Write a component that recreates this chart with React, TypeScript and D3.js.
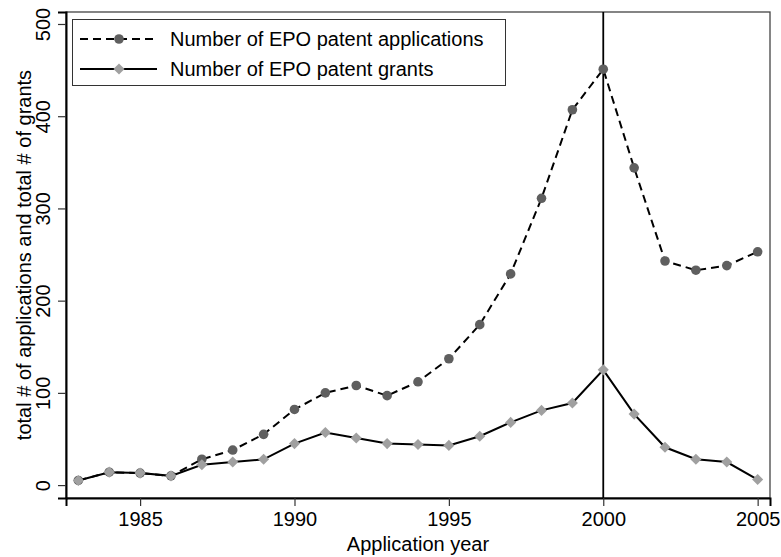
import React, { useRef, useEffect } from 'react';
import * as d3 from 'd3';

const years = d3.range(1983, 2006);
const applications = [5, 14, 13, 10, 28, 38, 55, 82, 100, 108, 97, 112, 137, 174, 229, 311, 407, 451, 344, 243, 233, 238, 253];
const grants = [5, 14, 13, 10, 22, 25, 28, 45, 57, 51, 45, 44, 43, 53, 68, 81, 89, 125, 77, 41, 28, 25, 6];
const xTicks = [1985, 1990, 1995, 2000, 2005];
const yTicks = [0, 100, 200, 300, 400, 500];
const legendLabels = ['Number of EPO patent applications', 'Number of EPO patent grants'];

const W = 781;
const H = 557;
const FONT = '"Liberation Sans", Arial, Helvetica, sans-serif';
const FS = 20;

const App = () => {
  const svgRef = useRef<SVGSVGElement>(null);

  useEffect(() => {
    const svg = d3.select(svgRef.current);
    svg.selectAll('*').remove();

    const left = 66, right = 770, top = 12, bottom = 498;

    const x = d3.scaleLinear().domain([1982.6, 2005.4]).range([left, right]);
    const y = d3.scaleLinear().domain([-14, 513]).range([bottom, top]);

    svg.append('rect')
      .attr('width', W).attr('height', H).attr('fill', '#fff');

    // plot frame
    svg.append('rect')
      .attr('x', left).attr('y', top)
      .attr('width', right - left).attr('height', bottom - top)
      .attr('fill', 'none').attr('stroke', '#444').attr('stroke-width', 1.3);

    // axes
    const yAxis = svg.append('g')
      .attr('transform', `translate(${left},0)`)
      .call(d3.axisLeft(y).tickValues(yTicks).tickSize(8).tickPadding(4));
    yAxis.select('.domain').attr('stroke', '#000').attr('stroke-width', 2);
    yAxis.selectAll('.tick line').attr('stroke', '#333').attr('stroke-width', 1.2);
    yAxis.selectAll('.tick text')
      .attr('font-family', FONT).attr('font-size', FS).attr('fill', '#000')
      .attr('text-anchor', 'middle')
      .attr('x', 0).attr('y', 0).attr('dy', '0.35em')
      .attr('transform', 'translate(-23,0) rotate(-90)');

    const xAxis = svg.append('g')
      .attr('transform', `translate(0,${bottom})`)
      .call(d3.axisBottom(x).tickValues(xTicks).tickFormat(d3.format('d')).tickSize(8).tickPadding(6));
    xAxis.select('.domain').attr('stroke', '#000').attr('stroke-width', 2);
    xAxis.selectAll('.tick line').attr('stroke', '#333').attr('stroke-width', 1.2);
    xAxis.selectAll('.tick text')
      .attr('font-family', FONT).attr('font-size', FS).attr('fill', '#000');

    // axis titles
    svg.append('text')
      .attr('transform', `translate(24,${(top + bottom) / 2}) rotate(-90)`)
      .attr('text-anchor', 'middle').attr('dy', '0.35em')
      .attr('font-family', FONT).attr('font-size', FS)
      .text('total # of applications and total # of grants');

    svg.append('text')
      .attr('x', (left + right) / 2).attr('y', 544)
      .attr('text-anchor', 'middle').attr('dy', '0.35em')
      .attr('font-family', FONT).attr('font-size', FS)
      .text('Application year');

    // vertical reference line at 2000
    svg.append('line')
      .attr('x1', x(2000)).attr('x2', x(2000))
      .attr('y1', top).attr('y2', bottom)
      .attr('stroke', '#000').attr('stroke-width', 1.8);

    const appData = years.map((yr, i) => ({ yr, v: applications[i] }));
    const grantData = years.map((yr, i) => ({ yr, v: grants[i] }));

    const line = d3.line<{ yr: number; v: number }>()
      .x(d => x(d.yr)).y(d => y(d.v));

    svg.append('path')
      .datum(appData)
      .attr('d', line)
      .attr('fill', 'none').attr('stroke', '#000').attr('stroke-width', 2)
      .attr('stroke-dasharray', '8,5');

    svg.append('path')
      .datum(grantData)
      .attr('d', line)
      .attr('fill', 'none').attr('stroke', '#000').attr('stroke-width', 2);

    svg.selectAll('.app-dot')
      .data(appData)
      .enter()
      .append('circle')
      .attr('cx', d => x(d.yr)).attr('cy', d => y(d.v))
      .attr('r', 4.8)
      .attr('fill', '#5f5f5f');

    // diamond = square turned 45 degrees
    const diamond = d3.symbol().type(d3.symbolSquare).size(62);

    svg.selectAll('.grant-dot')
      .data(grantData)
      .enter()
      .append('path')
      .attr('d', diamond)
      .attr('transform', d => `translate(${x(d.yr)},${y(d.v)}) rotate(45)`)
      .attr('fill', '#a0a0a0');

    // legend
    const lg = svg.append('g');
    lg.append('rect')
      .attr('x', 72.5).attr('y', 19.5).attr('width', 433).attr('height', 66)
      .attr('fill', '#fff').attr('stroke', '#333').attr('stroke-width', 1);

    const rows = [39, 69];
    rows.forEach((ry, i) => {
      lg.append('line')
        .attr('x1', 80).attr('x2', 157).attr('y1', ry).attr('y2', ry)
        .attr('stroke', '#000').attr('stroke-width', 2)
        .attr('stroke-dasharray', i === 0 ? '8,5' : null);
      if (i === 0) {
        lg.append('circle').attr('cx', 119).attr('cy', ry).attr('r', 4.8).attr('fill', '#5f5f5f');
      } else {
        lg.append('path').attr('d', diamond).attr('transform', `translate(119,${ry}) rotate(45)`).attr('fill', '#a0a0a0');
      }
      lg.append('text')
        .attr('x', 170).attr('y', ry).attr('dy', '0.35em')
        .attr('font-family', FONT).attr('font-size', FS)
        .text(legendLabels[i]);
    });
  }, []);

  return (
    <svg ref={svgRef} width={W} height={H}
      style={{ position: 'absolute', left: 0, top: 0, display: 'block' }} />
  );
};

export default App;
